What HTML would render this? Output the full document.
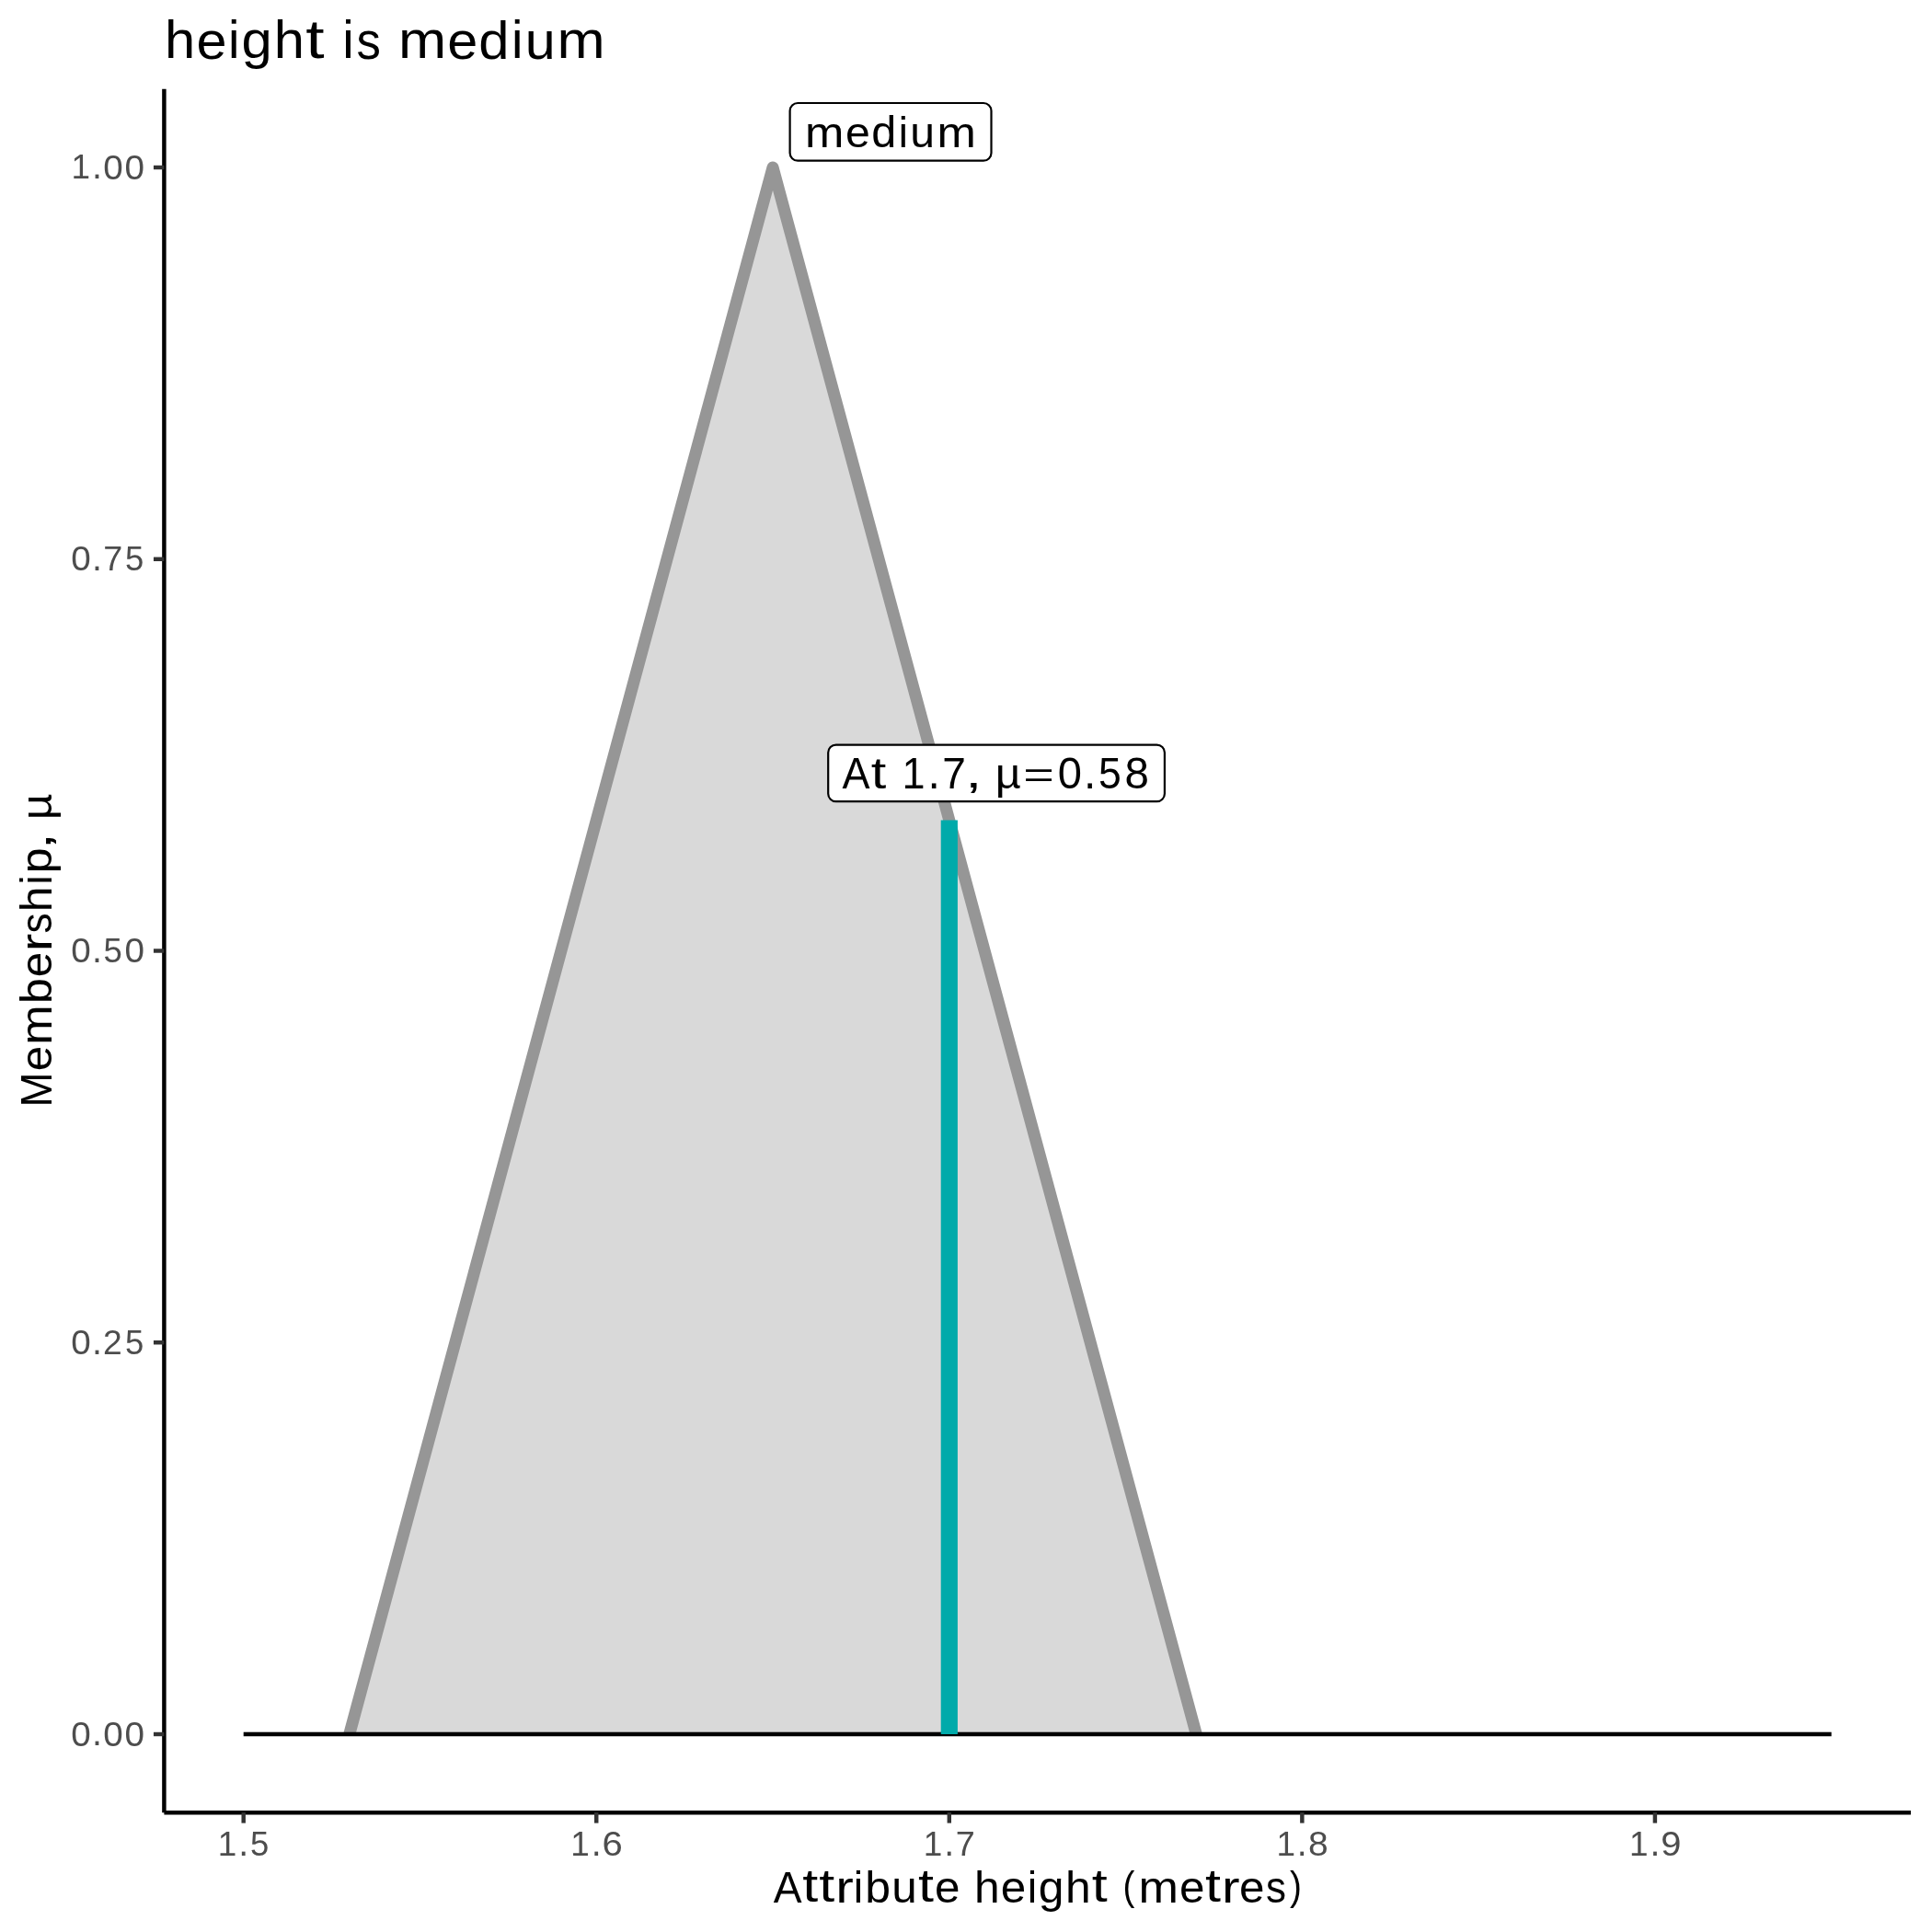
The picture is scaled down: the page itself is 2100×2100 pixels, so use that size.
<!DOCTYPE html>
<html><head><meta charset="utf-8"><title>height is medium</title>
<style>html,body{margin:0;padding:0;background:#fff;width:2100px;height:2100px;overflow:hidden}</style>
</head><body>
<svg width="2100" height="2100" viewBox="0 0 2100 2100" style="display:block;font-family:'Liberation Sans',sans-serif">
<rect x="0" y="0" width="2100" height="2100" fill="#ffffff"/>
<polygon points="379.77,1885.00 840.02,182.00 1300.29,1885.00" fill="#D9D9D9"/>
<polyline points="379.77,1885.00 840.02,182.00 1300.29,1885.00" fill="none" stroke="#969696" stroke-width="13" stroke-linejoin="round" stroke-linecap="butt"/>
<rect x="264.70" y="1882.70" width="1725.97" height="4.55" fill="#000000"/>
<line x1="1031.80" y1="1885.00" x2="1031.80" y2="891.58" stroke="#00AAAA" stroke-width="18.2"/>
<rect x="858.60" y="112.00" width="218.90" height="62.70" rx="8.5" ry="8.5" fill="#ffffff" stroke="#000000" stroke-width="2.2"/>
<rect x="900.20" y="809.60" width="365.70" height="61.60" rx="8.5" ry="8.5" fill="#ffffff" stroke="#000000" stroke-width="2.2"/>
<line x1="178.40" y1="96.85" x2="178.40" y2="1970.15" stroke="#000000" stroke-width="4.45"/>
<line x1="178.40" y1="1970.15" x2="2076.97" y2="1970.15" stroke="#000000" stroke-width="4.45"/>
<line x1="166.94" y1="1885.00" x2="178.40" y2="1885.00" stroke="#333333" stroke-width="4.45"/>
<line x1="166.94" y1="1459.25" x2="178.40" y2="1459.25" stroke="#333333" stroke-width="4.45"/>
<line x1="166.94" y1="1033.50" x2="178.40" y2="1033.50" stroke="#333333" stroke-width="4.45"/>
<line x1="166.94" y1="607.75" x2="178.40" y2="607.75" stroke="#333333" stroke-width="4.45"/>
<line x1="166.94" y1="182.00" x2="178.40" y2="182.00" stroke="#333333" stroke-width="4.45"/>
<line x1="264.70" y1="1970.15" x2="264.70" y2="1981.61" stroke="#333333" stroke-width="4.45"/>
<line x1="648.25" y1="1970.15" x2="648.25" y2="1981.61" stroke="#333333" stroke-width="4.45"/>
<line x1="1031.80" y1="1970.15" x2="1031.80" y2="1981.61" stroke="#333333" stroke-width="4.45"/>
<line x1="1415.35" y1="1970.15" x2="1415.35" y2="1981.61" stroke="#333333" stroke-width="4.45"/>
<line x1="1798.90" y1="1970.15" x2="1798.90" y2="1981.61" stroke="#333333" stroke-width="4.45"/>
<g style="will-change:transform">
<text transform="translate(874.90,159.80) scale(1.0571,0.9715)" font-size="48.12" fill="#000000">m</text>
<text transform="translate(919.06,159.96) scale(1.0017,0.9776)" font-size="48.12" fill="#000000">e</text>
<text transform="translate(947.23,159.96) scale(1.0090,0.9829)" font-size="48.12" fill="#000000">d</text>
<text transform="translate(976.86,159.80) scale(0.9497,0.9784)" font-size="48.12" fill="#000000">i</text>
<text transform="translate(989.32,159.96) scale(1.0007,0.9732)" font-size="48.12" fill="#000000">u</text>
<text transform="translate(1018.61,159.80) scale(1.0571,0.9715)" font-size="48.12" fill="#000000">m</text>
<text transform="translate(915.49,856.90) scale(0.9356,0.9890)" font-size="48.12" fill="#000000">A</text>
<text transform="translate(946.72,856.51) scale(1.2369,1.0018)" font-size="48.12" fill="#000000">t</text>
<text transform="translate(980.59,856.90) scale(0.9350,0.9890)" font-size="48.12" fill="#000000">1</text>
<text transform="translate(1008.48,856.90) scale(0.9963,1.0816)" font-size="48.12" fill="#000000">.</text>
<text transform="translate(1024.13,856.90) scale(0.9571,0.9890)" font-size="48.12" fill="#000000">7</text>
<text transform="translate(1049.35,856.24) scale(1.3550,0.9532)" font-size="48.12" fill="#000000">,</text>
<text transform="translate(1081.64,856.66) scale(1.0090,0.9574)" font-size="48.12" fill="#000000">µ</text>
<text transform="translate(1112.30,855.78) scale(1.1961,0.8174)" font-size="48.12" fill="#000000">=</text>
<text transform="translate(1149.78,857.05) scale(0.9791,0.9966)" font-size="48.12" fill="#000000">0</text>
<text transform="translate(1178.06,856.90) scale(0.9963,1.0816)" font-size="48.12" fill="#000000">.</text>
<text transform="translate(1194.05,857.05) scale(0.9247,0.9935)" font-size="48.12" fill="#000000">5</text>
<text transform="translate(1222.55,857.05) scale(0.9878,0.9966)" font-size="48.12" fill="#000000">8</text>
<text transform="translate(77.16,1897.52) scale(1.0042,0.9814)" font-size="38.50" fill="#4D4D4D">0</text>
<text transform="translate(99.93,1897.40) scale(1.0218,1.0651)" font-size="38.50" fill="#4D4D4D">.</text>
<text transform="translate(112.15,1897.52) scale(1.0042,0.9814)" font-size="38.50" fill="#4D4D4D">0</text>
<text transform="translate(135.48,1897.52) scale(1.0042,0.9814)" font-size="38.50" fill="#4D4D4D">0</text>
<text transform="translate(77.16,1471.77) scale(1.0042,0.9814)" font-size="38.50" fill="#4D4D4D">0</text>
<text transform="translate(99.93,1471.65) scale(1.0218,1.0651)" font-size="38.50" fill="#4D4D4D">.</text>
<text transform="translate(112.05,1471.65) scale(0.9670,0.9770)" font-size="38.50" fill="#4D4D4D">2</text>
<text transform="translate(135.93,1471.77) scale(0.9484,0.9783)" font-size="38.50" fill="#4D4D4D">5</text>
<text transform="translate(77.16,1046.02) scale(1.0042,0.9814)" font-size="38.50" fill="#4D4D4D">0</text>
<text transform="translate(99.93,1045.90) scale(1.0218,1.0651)" font-size="38.50" fill="#4D4D4D">.</text>
<text transform="translate(112.60,1046.02) scale(0.9484,0.9783)" font-size="38.50" fill="#4D4D4D">5</text>
<text transform="translate(135.48,1046.02) scale(1.0042,0.9814)" font-size="38.50" fill="#4D4D4D">0</text>
<text transform="translate(77.16,620.27) scale(1.0042,0.9814)" font-size="38.50" fill="#4D4D4D">0</text>
<text transform="translate(99.93,620.15) scale(1.0218,1.0651)" font-size="38.50" fill="#4D4D4D">.</text>
<text transform="translate(112.32,620.15) scale(0.9817,0.9738)" font-size="38.50" fill="#4D4D4D">7</text>
<text transform="translate(135.93,620.27) scale(0.9484,0.9783)" font-size="38.50" fill="#4D4D4D">5</text>
<text transform="translate(77.48,194.40) scale(0.9590,0.9738)" font-size="38.50" fill="#4D4D4D">1</text>
<text transform="translate(99.93,194.40) scale(1.0218,1.0651)" font-size="38.50" fill="#4D4D4D">.</text>
<text transform="translate(112.15,194.52) scale(1.0042,0.9814)" font-size="38.50" fill="#4D4D4D">0</text>
<text transform="translate(135.48,194.52) scale(1.0042,0.9814)" font-size="38.50" fill="#4D4D4D">0</text>
<text transform="translate(236.77,2016.50) scale(0.9590,0.9738)" font-size="38.50" fill="#4D4D4D">1</text>
<text transform="translate(259.22,2016.50) scale(1.0218,1.0651)" font-size="38.50" fill="#4D4D4D">.</text>
<text transform="translate(271.89,2016.62) scale(0.9484,0.9783)" font-size="38.50" fill="#4D4D4D">5</text>
<text transform="translate(620.32,2016.50) scale(0.9590,0.9738)" font-size="38.50" fill="#4D4D4D">1</text>
<text transform="translate(642.77,2016.50) scale(1.0218,1.0651)" font-size="38.50" fill="#4D4D4D">.</text>
<text transform="translate(654.60,2016.62) scale(1.0391,0.9814)" font-size="38.50" fill="#4D4D4D">6</text>
<text transform="translate(1003.87,2016.50) scale(0.9590,0.9738)" font-size="38.50" fill="#4D4D4D">1</text>
<text transform="translate(1026.32,2016.50) scale(1.0218,1.0651)" font-size="38.50" fill="#4D4D4D">.</text>
<text transform="translate(1038.71,2016.50) scale(0.9817,0.9738)" font-size="38.50" fill="#4D4D4D">7</text>
<text transform="translate(1387.42,2016.50) scale(0.9590,0.9738)" font-size="38.50" fill="#4D4D4D">1</text>
<text transform="translate(1409.87,2016.50) scale(1.0218,1.0651)" font-size="38.50" fill="#4D4D4D">.</text>
<text transform="translate(1421.99,2016.62) scale(1.0132,0.9814)" font-size="38.50" fill="#4D4D4D">8</text>
<text transform="translate(1770.97,2016.50) scale(0.9590,0.9738)" font-size="38.50" fill="#4D4D4D">1</text>
<text transform="translate(1793.42,2016.50) scale(1.0218,1.0651)" font-size="38.50" fill="#4D4D4D">.</text>
<text transform="translate(1805.16,2016.62) scale(1.0369,0.9814)" font-size="38.50" fill="#4D4D4D">9</text>
<text transform="translate(178.88,63.40) scale(1.0336,0.9984)" font-size="57.75" fill="#000000">h</text>
<text transform="translate(213.39,63.59) scale(1.0274,0.9976)" font-size="57.75" fill="#000000">e</text>
<text transform="translate(248.09,63.40) scale(0.9740,0.9984)" font-size="57.75" fill="#000000">i</text>
<text transform="translate(262.49,63.05) scale(1.0349,0.9818)" font-size="57.75" fill="#000000">g</text>
<text transform="translate(297.77,63.40) scale(1.0336,0.9984)" font-size="57.75" fill="#000000">h</text>
<text transform="translate(332.13,62.93) scale(1.2686,1.0223)" font-size="57.75" fill="#000000">t</text>
<text transform="translate(372.19,63.40) scale(0.9740,0.9984)" font-size="57.75" fill="#000000">i</text>
<text transform="translate(387.57,63.59) scale(0.9131,0.9994)" font-size="57.75" fill="#000000">s</text>
<text transform="translate(433.08,63.40) scale(1.0842,0.9913)" font-size="57.75" fill="#000000">m</text>
<text transform="translate(486.32,63.59) scale(1.0274,0.9976)" font-size="57.75" fill="#000000">e</text>
<text transform="translate(520.14,63.59) scale(1.0349,1.0029)" font-size="57.75" fill="#000000">d</text>
<text transform="translate(555.94,63.40) scale(0.9740,0.9984)" font-size="57.75" fill="#000000">i</text>
<text transform="translate(570.64,63.60) scale(1.0263,0.9931)" font-size="57.75" fill="#000000">u</text>
<text transform="translate(605.55,63.40) scale(1.0842,0.9913)" font-size="57.75" fill="#000000">m</text>
<text transform="translate(840.82,2067.80) scale(0.9596,1.0091)" font-size="48.12" fill="#000000">A</text>
<text transform="translate(872.22,2067.41) scale(1.2686,1.0223)" font-size="48.12" fill="#000000">t</text>
<text transform="translate(890.19,2067.41) scale(1.2686,1.0223)" font-size="48.12" fill="#000000">t</text>
<text transform="translate(908.14,2067.80) scale(1.2190,0.9913)" font-size="48.12" fill="#000000">r</text>
<text transform="translate(927.85,2067.80) scale(0.9740,0.9984)" font-size="48.12" fill="#000000">i</text>
<text transform="translate(940.34,2067.96) scale(1.0372,1.0029)" font-size="48.12" fill="#000000">b</text>
<text transform="translate(969.19,2067.96) scale(1.0263,0.9931)" font-size="48.12" fill="#000000">u</text>
<text transform="translate(997.88,2067.41) scale(1.2686,1.0223)" font-size="48.12" fill="#000000">t</text>
<text transform="translate(1015.97,2067.96) scale(1.0274,0.9976)" font-size="48.12" fill="#000000">e</text>
<text transform="translate(1059.03,2067.80) scale(1.0336,0.9984)" font-size="48.12" fill="#000000">h</text>
<text transform="translate(1087.78,2067.96) scale(1.0274,0.9976)" font-size="48.12" fill="#000000">e</text>
<text transform="translate(1116.70,2067.80) scale(0.9740,0.9984)" font-size="48.12" fill="#000000">i</text>
<text transform="translate(1128.69,2067.51) scale(1.0349,0.9818)" font-size="48.12" fill="#000000">g</text>
<text transform="translate(1158.09,2067.80) scale(1.0336,0.9984)" font-size="48.12" fill="#000000">h</text>
<text transform="translate(1186.72,2067.41) scale(1.2686,1.0223)" font-size="48.12" fill="#000000">t</text>
<text transform="translate(1220.48,2064.78) scale(0.8050,0.9105)" font-size="48.12" fill="#000000">(</text>
<text transform="translate(1237.55,2067.80) scale(1.0842,0.9913)" font-size="48.12" fill="#000000">m</text>
<text transform="translate(1281.91,2067.96) scale(1.0274,0.9976)" font-size="48.12" fill="#000000">e</text>
<text transform="translate(1309.98,2067.41) scale(1.2686,1.0223)" font-size="48.12" fill="#000000">t</text>
<text transform="translate(1327.93,2067.80) scale(1.2190,0.9913)" font-size="48.12" fill="#000000">r</text>
<text transform="translate(1346.92,2067.96) scale(1.0274,0.9976)" font-size="48.12" fill="#000000">e</text>
<text transform="translate(1375.91,2067.96) scale(0.9131,0.9994)" font-size="48.12" fill="#000000">s</text>
<text transform="translate(1401.98,2064.78) scale(0.8050,0.9105)" font-size="48.12" fill="#000000">)</text>
<text transform="translate(55.90,1204.28) rotate(-90) translate(0.74,0.00) scale(0.9495,1.0091)" font-size="48.12" fill="#000000">M</text>
<text transform="translate(55.90,1204.28) rotate(-90) translate(39.99,0.16) scale(1.0274,0.9976)" font-size="48.12" fill="#000000">e</text>
<text transform="translate(55.90,1204.28) rotate(-90) translate(68.47,0.00) scale(1.0842,0.9913)" font-size="48.12" fill="#000000">m</text>
<text transform="translate(55.90,1204.28) rotate(-90) translate(113.31,0.16) scale(1.0372,1.0029)" font-size="48.12" fill="#000000">b</text>
<text transform="translate(55.90,1204.28) rotate(-90) translate(141.92,0.16) scale(1.0274,0.9976)" font-size="48.12" fill="#000000">e</text>
<text transform="translate(55.90,1204.28) rotate(-90) translate(169.97,0.00) scale(1.2190,0.9913)" font-size="48.12" fill="#000000">r</text>
<text transform="translate(55.90,1204.28) rotate(-90) translate(189.76,0.16) scale(0.9131,0.9994)" font-size="48.12" fill="#000000">s</text>
<text transform="translate(55.90,1204.28) rotate(-90) translate(213.13,0.00) scale(1.0336,0.9984)" font-size="48.12" fill="#000000">h</text>
<text transform="translate(55.90,1204.28) rotate(-90) translate(242.60,0.00) scale(0.9740,0.9984)" font-size="48.12" fill="#000000">i</text>
<text transform="translate(55.90,1204.28) rotate(-90) translate(255.10,-0.28) scale(1.0372,0.9805)" font-size="48.12" fill="#000000">p</text>
<text transform="translate(55.90,1204.28) rotate(-90) translate(280.77,-0.67) scale(1.3897,0.9726)" font-size="48.12" fill="#000000">,</text>
<text transform="translate(55.90,1204.28) rotate(-90) translate(312.91,-0.25) scale(1.0349,0.9770)" font-size="48.12" fill="#000000">µ</text>
</g>
</svg>
</body></html>
